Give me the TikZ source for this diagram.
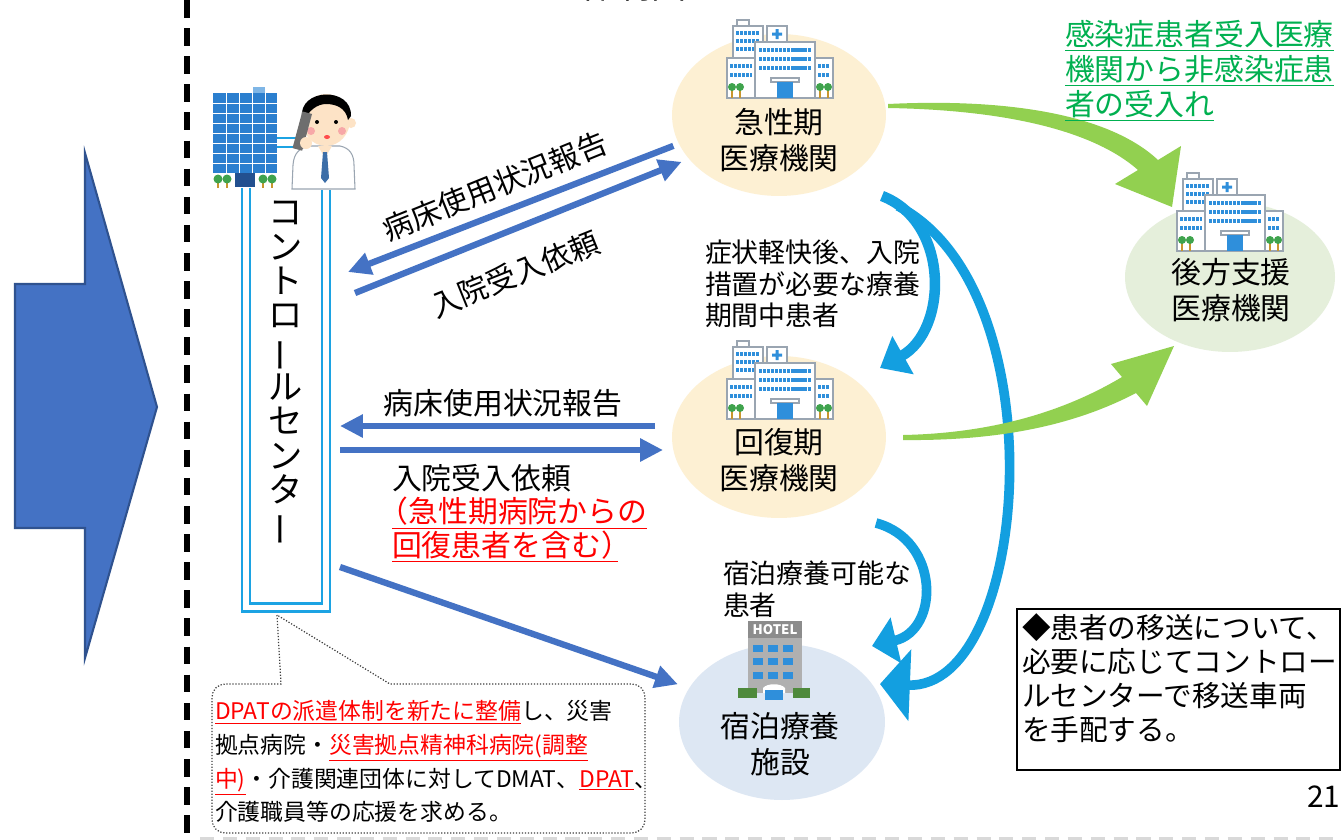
\documentclass[tikz,border=0pt]{standalone}
\usepackage{fontspec}
\setmainfont{Noto Sans CJK JP}
\usetikzlibrary{shapes.geometric,arrows.meta,positioning}

\definecolor{arrblue}{HTML}{4472C4}
\definecolor{arrblueD}{HTML}{2F528F}
\definecolor{cyanarr}{HTML}{139FE0}
\definecolor{grnarr}{HTML}{92D050}
\definecolor{grntext}{HTML}{00B050}
\definecolor{acutefill}{HTML}{FDF0D3}
\definecolor{hotelfill}{HTML}{DDE7F3}
\definecolor{backfill}{HTML}{E5EFDB}
\definecolor{ctrcyan}{HTML}{1CA3E3}
\definecolor{winblue}{HTML}{2F8FDB}
\definecolor{iconline}{HTML}{9AA5B1}
\definecolor{treegreen}{HTML}{3FA34D}
\definecolor{trunk}{HTML}{C8962E}
\definecolor{ctrbld}{HTML}{2B7FCF}
\definecolor{ctrbldlight}{HTML}{7FB6E6}
\definecolor{ctrblddark}{HTML}{23508F}
\definecolor{skin}{HTML}{FDE3C6}
\definecolor{tieblue}{HTML}{3C6EA8}
\definecolor{phonegray}{HTML}{6E6E6E}
\definecolor{blush}{HTML}{F7A8A8}
\definecolor{hotelsign}{HTML}{8C8C8C}
\definecolor{hotelbody}{HTML}{B0B0B0}
\definecolor{hedge}{HTML}{4E8A3C}

% one pixel of the layout grid
\newdimen\pxu \pxu=0.02cm

\newcommand{\rul}[1]{\textcolor{red}{\underline{#1}}}
\newcommand{\gul}[1]{\textcolor{grntext}{\underline{#1}}}
% long vowel mark set upright
\newcommand{\vbar}{\rotatebox[origin=c]{90}{ー}}

% hospital icon, #1 = top left corner
\newcommand{\hospicon}[1]{%
  \begin{scope}[shift={#1}]
    \draw[iconbox] (10,0) rectangle (22,6);
    \draw[iconbox] (6,6) rectangle (36,78);
    \foreach \y in {13,21,29} \draw[winband] (9,\y) -- (33,\y);
    \draw[iconbox] (0,38) rectangle (28,78);
    \foreach \y in {46,55} \draw[winband] (3,\y) -- (25,\y);
    \draw[iconbox] (40,6) rectangle (60,22);
    \fill[winblue] (48.5,9) rectangle (51.5,19) (45,12.5) rectangle (55,15.5);
    \draw[iconbox] (28,22) rectangle (88,78);
    \foreach \y in {30,39,48} \draw[winband] (32,\y) -- (84,\y);
    \draw[iconbox] (88,38) rectangle (106,78);
    \foreach \y in {46,55} \draw[winband] (91,\y) -- (103,\y);
    \draw[iconbox] (44,58) rectangle (72,62);
    \fill[winblue] (50,62) rectangle (66,78);
    \foreach \x in {5,13,93,101} {
      \fill[trunk] (\x-0.8,68) rectangle (\x+0.8,78);
      \fill[treegreen] (\x,67) circle (4);
    }
  \end{scope}}

\begin{document}
\begin{tikzpicture}[x=0.02cm, y=-0.02cm,
  every node/.style={inner sep=0pt, outer sep=0pt},
  hosp/.style={ellipse, minimum width=4.28cm, minimum height=3.24cm},
  nodelbl/.style={font=\fontsize{17pt}{20.5pt}\selectfont, align=center},
  msg/.style={font=\fontsize{17pt}{20pt}\selectfont},
  note/.style={font=\fontsize{15.3pt}{18pt}\selectfont, align=left},
  blarrow/.style={draw=arrblue, line width=3.6pt, -{Triangle[length=13pt, width=12.5pt]}},
  cyarrow/.style={draw=cyanarr, line cap=butt},
  ctrline/.style={draw=ctrcyan, line width=1.7pt},
  winband/.style={draw=winblue, line width=2pt, dash pattern=on 1.8pt off 0.5pt},
  iconbox/.style={fill=white, draw=iconline, line width=0.6pt},
  callout/.style={draw=black!75, densely dotted, line width=0.7pt},
]
\fill[white] (0,0) rectangle (1341,839);
\useasboundingbox (0,0) rectangle (1341,839);

\begin{scope}
  \clip (0,0) rectangle (1341,839);
  \node[anchor=base west, font=\fontsize{20pt}{20pt}\selectfont] (title) at (230,-2) {コントロールセンター体制図};
\end{scope}

% big block arrow and separators
\filldraw[fill=arrblue, draw=arrblueD, line width=1.2pt]
  (15,284) -- (85,284) -- (85,153) -- (157,407) -- (85,658) -- (85,528) -- (15,528) -- cycle;
\draw[line width=3pt, dash pattern=on 10pt off 6pt] (187,0) -- (187,839);
\draw[black!15, line width=2pt, dash pattern=on 8pt off 5pt] (200,839) -- (1341,839);

% facilities
\node[hosp, fill=acutefill] (acute) at (779,115) {};
\node[hosp, fill=acutefill] (recov) at (779,437) {};
\node[ellipse, fill=hotelfill, minimum width=4.12cm, minimum height=3.12cm] (hotel) at (782,722) {};
\node[ellipse, fill=backfill, minimum width=4.2cm, minimum height=3.0cm] (backup) at (1230,277) {};

\hospicon{(727,20)}
\hospicon{(727,341)}
\hospicon{(1177,173)}

% hotel
\begin{scope}[shift={(738,621)}]
  \fill[hotelsign] (10,0) rectangle (64,17);
  \node[font=\bfseries\fontsize{7.5pt}{8pt}\selectfont, text=white] (hotelSign) at (37,9) {HOTEL};
  \fill[hotelbody] (10,17) rectangle (64,72);
  \foreach \x in {15,30,45} \foreach \y in {24,37,51} \fill[winblue] (\x,\y) rectangle ++(10,7);
  \fill[white] (25,72) -- (25,67) .. controls (29,62) and (43,62) .. (47,67) -- (47,72) -- cycle;
  \fill[winblue] (27,69) rectangle (45,79);
  \fill[hedge] (0,67) rectangle (19,77);
  \fill[hedge] (55,67) rectangle (72,77);
\end{scope}

\node[nodelbl] (acuteT) at (779,140) {急性期\\医療機関};
\node[nodelbl] (recovT) at (779,460) {回復期\\医療機関};
\node[nodelbl] (hotelT) at (780,744) {宿泊療養\\施設};
\node[nodelbl] (backT) at (1231,290) {後方支援\\医療機関};

% control center: office and operator
\begin{scope}[shift={(213,87)}]
  \fill[ctrbldlight] (40,0) rectangle (52,6);
  \fill[ctrbld] (0,6) rectangle (64,86);
  \foreach \y in {16,26,...,76} \draw[white, line width=0.5pt] (0,\y) -- (64,\y);
  \foreach \x in {13,26,39,52} \draw[white, line width=0.5pt] (\x,6) -- (\x,86);
  \fill[ctrblddark] (22,86) rectangle (42,100);
  \foreach \x in {5,14,50,59} {
    \fill[trunk] (\x-0.8,93) rectangle (\x+0.8,101);
    \fill[treegreen] (\x,92) circle (4.5);
  }
\end{scope}
\draw[ctrline, line width=0.9pt] (277,138) -- (296,138) (277,147) -- (296,147);
\filldraw[fill=white, draw=iconline, line width=0.6pt] (292,189) -- (293,165)
  .. controls (294,152) and (300,148) .. (310,146) -- (340,146)
  .. controls (350,148) and (354,155) .. (354,165) -- (355,189) -- cycle;
\fill[skin] (318,146) -- (332,146) -- (325,158) -- cycle;
\fill[tieblue] (323,152) -- (327,152) -- (329,178) -- (325,183) -- (321,178) -- cycle;
\fill[skin] (351,123) circle (5);
\fill[skin] (326,120) ellipse (24 and 26);
\fill[black] (302,118) .. controls (298,88) and (352,86) .. (351,116) -- (348,120)
  .. controls (346,108) and (336,104) .. (326,104) .. controls (318,104) and (308,110) .. (304,122) -- cycle;
\fill (317,122) circle (2) (336,122) circle (2);
\fill[blush] (311,131) circle (4) (342,131) circle (4);
\fill[red!70] (327,137) ellipse (3 and 2);
\fill[phonegray, rotate around={-15:(302,132)}] (297,112) rectangle (307,150);
\fill[skin] (306,143) circle (6);

% control center frame
\draw[ctrline] (242,188) -- (242,611) -- (330,611) -- (330,190);
\draw[ctrline] (250,188) -- (250,603) -- (322,603) -- (322,190);
\node[font=\fontsize{19.5pt}{19.6pt}\selectfont, align=center] (ctr) at (286,374)
  {コ\\ン\\ト\\ロ\\\vbar\\ル\\セ\\ン\\タ\\\vbar};

% reports and requests
\coordinate (rep1end) at (348,272);
\coordinate (req1start) at (355,293);
\coordinate (rep2start) at (655,426);
\coordinate (rep2end) at (340,426);
\coordinate (req2start) at (340,450);
\coordinate (req2end) at (663,450);
\coordinate (sendstart) at (340,567);
\draw[blarrow, shorten <=6\pxu] (acute.196) -- (rep1end);
\draw[blarrow, shorten >=8\pxu] (req1start) -- (acute.206);
\draw[blarrow] (rep2start) -- (rep2end);
\draw[blarrow] (req2start) -- (req2end);
\draw[blarrow, shorten >=12\pxu] (sendstart) -- (hotel.160);

\node[msg, rotate=22] (rep1) at (495,186) {病床使用状況報告};
\node[msg, rotate=22] (req1) at (515,274) {入院受入依頼};
\node[msg] (rep2) at (503,403) {病床使用状況報告};
\node[msg, anchor=west] (req2) at (392,478) {入院受入依頼};
\node[font=\fontsize{17pt}{18pt}\selectfont, align=left, below=3pt of req2.south west, anchor=north west]
  (req2note) {\rul{\hspace*{-0.45em}（急性期病院からの}\\\rul{回復患者を含む）\hspace*{-0.45em}}};

% transfers between facilities
\coordinate (cyA0) at (882,196);
\coordinate (cyA1) at (880,368);
\coordinate (cyB0) at (898,206);
\coordinate (cyB1) at (880,684);
\coordinate (cyC0) at (876,523);
\coordinate (cyC1) at (872,646);
\draw[cyarrow, line width=6pt, -{Triangle[length=15pt, width=24pt]}]
  (cyA0) .. controls (950,222) and (948,330) .. (cyA1);
\draw[cyarrow, line width=5.5pt, -{Triangle[length=17pt, width=40pt]}]
  (cyB0) .. controls (1060,290) and (1030,690) .. (cyB1);
\draw[cyarrow, line width=5.5pt, -{Triangle[length=14pt, width=26pt]}]
  (cyC0) .. controls (940,540) and (940,630) .. (cyC1);

\node[note, anchor=north west] (mildT) at (705,240) {症状軽快後、入院\\措置が必要な療養\\期間中患者};
\node[note, anchor=north west] (stayT) at (723,561) {宿泊療養可能な\\患者};

% green arrows to the back-up hospital
\fill[grnarr] (888,104) .. controls (1010,98) and (1110,115) .. (1158,160)
  -- (1181,146) -- (1172,207) -- (1115,184) -- (1138,170)
  .. controls (1095,132) and (1010,110) .. (888,108) -- cycle;
\fill[grnarr] (903,435) .. controls (1000,433) and (1070,408) .. (1122,377)
  -- (1111,364) -- (1174,346) -- (1147,406) -- (1136,393)
  .. controls (1075,425) and (1000,441) .. (903,440) -- cycle;

\node[anchor=north west, font=\fontsize{17pt}{20pt}\selectfont, align=left] (infect) at (1065,20)
  {\gul{感染症患者受入医療}\\\gul{機関から非感染症患}\\\gul{者の受入れ}};

% support request callout
\coordinate (tail) at (277,615);
\draw[callout] (tail) -- (281,684) {[rounded corners=7.5pt] -- (212,684) -- (212,833) -- (645,833) -- (645,684)} -- (390,684) -- cycle;
\node[anchor=north west, font=\fontsize{13pt}{19.3pt}\selectfont, align=left] (callT) at (215,700)
  {\rul{DPATの派遣体制を新たに整備}し、災害\\
   拠点病院・\rul{災害拠点精神科病院(調整}\\
   \rul{中)}・介護関連団体に対してDMAT、\rul{DPAT}、\\
   介護職員等の応援を求める。};

% transport note
\node[draw=black, line width=0.8pt, minimum width=6.46cm, minimum height=3.22cm, anchor=north west] (noteBox) at (1017,609) {};
\node[anchor=north west, font=\fontsize{16.3pt}{19.3pt}\selectfont, align=left] (noteT) at (1022,614)
  {◆患者の移送について、\\必要に応じてコントロー\\ルセンターで移送車両\\を手配する。};

\node[anchor=west, font=\fontsize{17pt}{17pt}\selectfont] (pageno) at (1307,797) {21};
\end{tikzpicture}
\end{document}
